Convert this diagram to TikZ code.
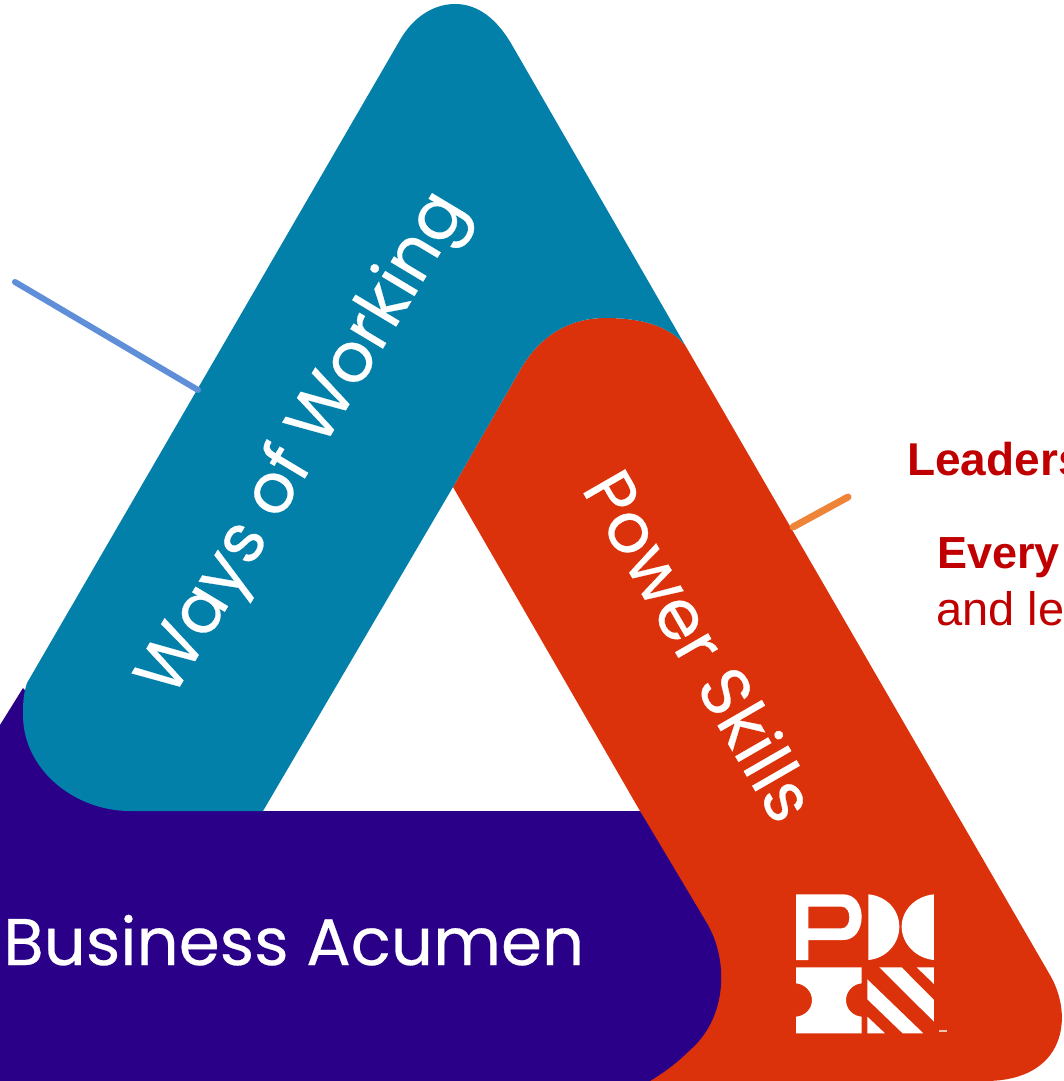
\documentclass[tikz,border=0pt]{standalone}
\usepackage{fontspec}
\setmainfont{Liberation Sans}
\newfontfamily\bandfont[FakeBold=0.4]{Poppins}
\definecolor{tealband}{HTML}{0280A9}
\definecolor{redband}{HTML}{DC320B}
\definecolor{purpleband}{HTML}{2B0088}
\definecolor{darkredtext}{HTML}{C00000}
\definecolor{blueline}{HTML}{5F8FD8}
\definecolor{orangeline}{HTML}{EE8437}
\tikzset{
  bandlabel/.style={font=\bandfont\fontsize{69}{75}\selectfont,text=white,inner sep=0pt},
  sidelabel/.style={font=\fontsize{45}{50}\selectfont,text=darkredtext,inner sep=0pt,anchor=base west},
  leader/.style={line width=6pt,line cap=round},
  logopart/.style={fill=white,even odd rule}
}
\begin{document}
\begin{tikzpicture}[x=1pt,y=-1pt]
\useasboundingbox (0,0) rectangle (1063,1081);
\clip (0,0) rectangle (1063,1081);
\fill[white] (0,0) rectangle (1063,1081);
% red band
\fill[redband] (453,487) -- (520,370) .. controls (540,335) and (570,318) .. (605,318)
  .. controls (640,318) and (668,325) .. (685,345) -- (1050,975)
  .. controls (1074,1016) and (1066,1081) .. (985,1081) -- (640,1081) -- (690,1000) -- (670,863) -- cycle;
% purple band
\fill[purpleband] (0,725) -- (23,688) -- (130,811) -- (640,811) -- (708,925)
  .. controls (730,965) and (725,1020) .. (690,1050) .. controls (678,1062) and (665,1072) .. (650,1081)
  -- (0,1081) -- cycle;
% teal band
\fill[tealband] (400,40) .. controls (412,19) and (432,4) .. (455,4)
  .. controls (478,4) and (497,19) .. (512,45) -- (685,345)
  .. controls (668,325) and (640,318) .. (605,318) .. controls (570,318) and (540,335) .. (520,370)
  -- (453,487) -- (263,811) -- (130,811) .. controls (75,811) and (23,770) .. (23,715)
  .. controls (23,705) and (23,695) .. (27,683) -- cycle;
% leaders
\coordinate (blueA) at (15,282);
\coordinate (blueB) at (198,390);
\coordinate (orangeA) at (793,527);
\coordinate (orangeB) at (848,497);
\draw[leader,blueline] (blueA) -- (blueB);
\draw[leader,orangeline,line width=7pt] (orangeA) -- (orangeB);
% band labels
\node[bandlabel,rotate=59] (ways) at (305,445) {Ways of Working};
\node[bandlabel,rotate=-60] (power) at (701,645) {Power Skills};
\node[bandlabel,font=\bandfont\fontsize{66}{72}\selectfont,anchor=base west] (business) at (3,965) {Business Acumen};
% side text
\node[sidelabel,font=\fontsize{46}{50}\selectfont] (leaderline) at (907,475) {\bfseries Leaders};
\node[sidelabel] (everyline) at (937,568) {\bfseries Every};
\node[sidelabel,font=\fontsize{47}{50}\selectfont] (andline) at (936,625) {and le};
% logo
\begin{scope}[shift={(760,860)},x=0.3333pt,y=-0.3333pt]
  \fill[logopart] (108,103) -- (250,103) .. controls (285,103) and (305,135) .. (305,170)
    .. controls (305,208) and (285,240) .. (250,240) -- (145,240) -- (145,300) -- (108,300) -- cycle
    (145,140) -- (245,140) .. controls (260,140) and (268,155) .. (268,172)
    .. controls (268,190) and (260,205) .. (245,205) -- (145,205) -- cycle;
  \fill[logopart] (325,103) .. controls (380,108) and (418,150) .. (418,200)
    .. controls (418,250) and (380,295) .. (325,300) -- cycle;
  \fill[logopart] (522,103) .. controls (467,108) and (425,150) .. (425,200)
    .. controls (425,250) and (467,295) .. (522,300) -- cycle;
  \fill[logopart] (108,322) -- (305,322) -- (305,370) .. controls (278,372) and (258,395) .. (258,420)
    .. controls (258,447) and (278,468) .. (305,470) -- (305,520) -- (108,520) -- (108,470)
    .. controls (135,468) and (156,447) .. (156,420) .. controls (156,395) and (135,372) .. (108,370) -- cycle;
  \fill[logopart] (358,322) -- (425,322) -- (522,420) -- (522,485) -- cycle;
  \fill[logopart] (470,322) -- (522,322) -- (522,372) -- cycle;
  \fill[logopart] (322,358) -- (490,520) -- (428,520) -- (322,418) -- cycle;
  \fill[logopart] (322,470) -- (375,520) -- (322,520) -- cycle;
  \fill[white,opacity=.7] (537,510) rectangle (560,516);
\end{scope}
\end{tikzpicture}
\end{document}
